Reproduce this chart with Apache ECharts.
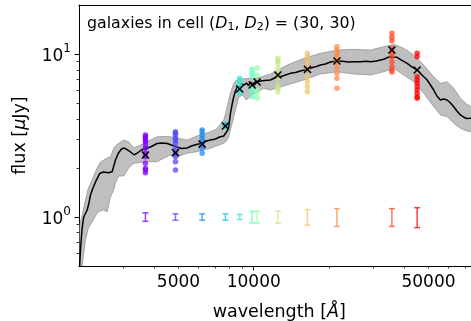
<!DOCTYPE html>
<html><head><meta charset="utf-8">
<script src="https://cdn.jsdelivr.net/npm/echarts@6/dist/echarts.min.js"></script>
<style>html,body{margin:0;padding:0;background:#fff}#c{width:471px;height:321px}</style>
</head><body><div id="c"></div>
<script>
// median spectrum
const lineWave = [2000,2027,2055,2089,2156,2192,2223,2275,2328,2421,2505,2623,2714,2798,2876,2957,3040,3125,3212,3333,3426,3555,3746,3862,4107,4312,4503,4685,4938,5138,5416,5634,5899,6217,6471,6713,7030,7293,7586,7827,7943,8069,8197,8318,8450,8583,8766,8929,9120,9350,9524,9700,9881,10318,10636,11035,11663,12213,12788,13391,14022,14683,15375,16355,17174,17818,18486,19357,20270,21560,22640,23930,25119,26720,28240,29300,30960,33113,34260,35230,36220,37460,38980,41090,42740,45050,46860,49400,50920,52480,54050,55820,57390,59380,61230,63100,64990,67110,69020,70960,74270,77000,80000];
const lineFlux = [0.42,0.627,0.832,1.0,1.104,1.219,1.364,1.506,1.64,1.848,1.889,1.87,1.896,2.237,2.47,2.614,2.65,2.577,2.505,2.401,2.47,2.577,2.65,2.688,2.824,2.844,2.824,2.765,2.688,2.632,2.65,2.726,2.785,2.833,2.927,2.968,3.009,3.096,3.14,3.37,3.566,4.327,4.934,5.47,5.929,6.248,6.275,6.545,6.454,6.639,6.409,6.733,6.545,6.763,6.83,6.878,6.927,7.177,7.256,7.434,7.613,7.7,7.865,8.055,8.263,8.381,8.561,8.683,8.932,9.058,9.02,8.932,8.97,8.97,9.02,8.97,9.058,9.279,9.517,9.625,9.585,9.545,9.188,8.77,8.381,7.976,7.485,6.927,6.454,6.013,5.525,5.222,5.296,5.222,5.005,4.75,4.47,4.226,4.108,4.022,4.033,3.95,3.9];
// spread band
const bandWave = [2000,2059,2122,2181,2257,2363,2436,2512,2592,2672,2754,2798,2884,3020,3162,3311,3522,3746,4107,4365,4643,4938,5416,5938,6290,6713,7094,7586,7777,7943,8069,8318,8450,8710,9012,9350,9700,10318,10965,11663,13604,15849,18486,21560,25119,29300,33113,36308,39811,43652,47863,52481,55820,59380,63096,67110,70960,74270,80000];
const bandLow = [0.356,0.5,0.723,0.856,0.932,1.058,1.088,1.104,1.073,1.327,1.464,1.617,1.784,1.784,1.998,2.135,2.16,2.184,2.184,2.292,2.401,2.344,2.459,2.515,2.577,2.639,2.726,2.833,2.927,3.096,3.418,4.108,4.533,5.447,5.604,5.222,5.525,5.847,6.161,6.013,6.454,6.927,7.538,7.786,7.538,7.434,7.786,8.176,7.434,6.763,5.741,4.75,4.226,4.124,3.757,3.502,3.37,3.337,3.3];
const bandHigh = [0.856,1.029,1.271,1.506,1.687,1.998,2.175,2.237,2.301,2.344,2.639,2.726,2.833,2.968,2.897,2.65,2.765,2.897,3.109,3.118,3.109,3.052,2.968,3.14,3.23,3.337,3.467,3.936,4.533,5.222,5.765,6.61,6.83,6.976,7.024,7.074,7.094,7.125,7.328,7.538,8.561,9.41,10.1,10.58,10.69,10.58,11.09,11.47,10.84,9.86,8.561,7.256,6.61,6.763,6.161,5.349,4.934,4.75,4.65];
// photometric bands
const bandCenters = [3688,4863,6218,7705,8790,9854,10318,12497,16400,21520,35700,45040];
const bandColors = ['#8000ff','#5148fc','#238af5','#0cc1e8','#3ae8d7','#68fcc1','#97fca7','#c5e88a','#f3c16a','#ff8a48','#ff4824','#ff0000'];
const bandErr = [0.06,0.045,0.045,0.045,0.035,0.08,0.085,0.085,0.11,0.125,0.125,0.14];
const medianPhot = [2.40,2.48,2.80,3.62,6.1,6.45,6.73,7.43,8.05,9.06,10.58,7.98];
const galaxyFlux = [
  [3.18,3.11,3.04,2.97,2.90,2.77,2.64,2.46,2.34,2.14,1.99,1.94,1.87],
  [3.34,3.26,3.18,3.04,2.97,2.83,2.64,2.46,2.34,2.18,1.94],
  [3.42,3.34,3.18,3.04,2.90,2.77,2.64,2.46],
  [3.7,3.6],
  [7.10,6.61,6.30,6.9,6.0,5.7],
  [8.05,7.62,7.26,6.16,5.87,5.47],
  [8.2,7.4,6.01,5.74,5.35],
  [9.41,9.06,8.77,8.17,7.79,7.10,6.45,6.16,5.87],
  [10.1,9.62,8.97,8.36,7.98,7.26,6.76,6.30,5.87],
  [11.09,10.58,10.09,9.62,9.19,8.77,8.17,7.62,7.10,6.16],
  [13.4,12.66,12.07,10.84,10.1,9.62,8.97,8.36,7.98,7.76],
  [10.1,9.62,7.26,6.93,6.61,6.30,6.01,5.74,5.47,5.35]
];
const xTickLabels = [5000,10000,50000];
const xMajorTicks = [10000];
const xMinorTicks = [3000,4000,5000,6000,7000,8000,9000,20000,30000,40000,50000,60000,70000];
const yTickLabels = [1,10];
const yMinorTicks = [0.6,0.7,0.8,0.9,2,3,4,5,6,7,8,9];

const FONT = 'DejaVu Sans';
const chart = echarts.init(document.getElementById('c'), null, {renderer:'canvas'});

const scatterData = [];
galaxyFlux.forEach((arr, i) => arr.forEach(v => scatterData.push([bandCenters[i], v, i])));
const errData = bandCenters.map((w, i) => [w, 1 - bandErr[i], 1 + bandErr[i], i]);
const medData = bandCenters.map((w, i) => [w, medianPhot[i]]);
const bandData = bandWave.map((w, i) => [w, bandLow[i], bandHigh[i]]);

const xBase = {type:'log', min:2000, max:80000, gridIndex:0, splitLine:{show:false}};
const yBase = {type:'log', min:0.5, max:20, gridIndex:0, splitLine:{show:false}};

chart.setOption({
  animation:false,
  backgroundColor:'#fff',
  title:{
    text:'{n|galaxies in cell (}{i|D}{s|1}{n|, }{i|D}{s|2}{n|) = (30, 30)}',
    left:82, top:9,
    textStyle:{fontWeight:'normal', rich:{
      n:{fontFamily:FONT, fontSize:15.8, fontWeight:'normal', color:'#000', lineHeight:19},
      i:{fontFamily:FONT, fontSize:15.8, fontWeight:'normal', color:'#000', fontStyle:'italic', lineHeight:19},
      s:{fontFamily:FONT, fontSize:11, fontWeight:'normal', color:'#000', lineHeight:19, verticalAlign:'bottom'}
    }}
  },
  grid:{left:79, top:5, width:400.5, height:261, outerBoundsMode:'none', containLabel:false, show:false},
  xAxis:[
    Object.assign({}, xBase, {
      position:'bottom',
      name:'{n|wavelength [}{i|Å}{n|]}', nameLocation:'middle', nameGap:37,
      nameTextStyle:{rich:{
        n:{fontFamily:FONT, fontSize:17.5, color:'#000'},
        i:{fontFamily:FONT, fontSize:17.5, color:'#000', fontStyle:'italic'}
      }},
      axisLine:{show:true, lineStyle:{color:'#000', width:1}},
      axisTick:{show:true, length:4.5, lineStyle:{color:'#000', width:1}, customValues:xMajorTicks},
      axisLabel:{show:true, customValues:xTickLabels, formatter:v => String(Math.round(v)), fontFamily:FONT, fontSize:17, color:'#000', margin:8}
    }),
    Object.assign({}, xBase, {
      position:'bottom',
      axisLine:{show:false},
      axisTick:{show:true, length:2.5, lineStyle:{color:'#000', width:0.8}, customValues:xMinorTicks},
      axisLabel:{show:false}
    }),
    Object.assign({}, xBase, {
      position:'top',
      axisLine:{show:true, lineStyle:{color:'#000', width:1}},
      axisTick:{show:false},
      axisLabel:{show:false}
    })
  ],
  yAxis:[
    Object.assign({}, yBase, {
      position:'left',
      name:'{n|flux [}{i|μ}{n|Jy]}', nameLocation:'middle', nameGap:50, nameRotate:90,
      nameTextStyle:{rich:{
        n:{fontFamily:FONT, fontSize:17.5, color:'#000'},
        i:{fontFamily:FONT, fontSize:17.5, color:'#000', fontStyle:'italic'}
      }},
      axisLine:{show:true, lineStyle:{color:'#000', width:1}},
      axisTick:{show:true, length:4.5, lineStyle:{color:'#000', width:1}, customValues:yTickLabels},
      axisLabel:{show:true, customValues:yTickLabels, margin:8,
        formatter:v => '{b|10}{s|' + Math.round(Math.log10(v)) + '}',
        rich:{
          b:{fontFamily:FONT, fontSize:17, color:'#000', lineHeight:22, verticalAlign:'bottom'},
          s:{fontFamily:FONT, fontSize:12, color:'#000', lineHeight:22, verticalAlign:'top'}
        }}
    }),
    Object.assign({}, yBase, {
      position:'left',
      axisLine:{show:false},
      axisTick:{show:true, length:2.5, lineStyle:{color:'#000', width:0.8}, customValues:yMinorTicks},
      axisLabel:{show:false}
    })
  ],
  series:[
    {
      type:'custom', xAxisIndex:0, yAxisIndex:0, clip:true, z:1,
      data:bandData,
      renderItem:(params, api) => {
        if (params.dataIndex !== 0) return null;
        const top = bandWave.map((w, i) => api.coord([w, bandHigh[i]]));
        const bot = bandWave.map((w, i) => api.coord([w, bandLow[i]])).reverse();
        const cs = params.coordSys;
        return {type:'group', children:[{
          type:'polygon', shape:{points:top.concat(bot)},
          style:{fill:'rgba(128,128,128,0.5)', stroke:'rgba(128,128,128,0.6)', lineWidth:1}
        }], clipPath:{type:'rect', shape:{x:cs.x, y:cs.y, width:cs.width, height:cs.height}}};
      }
    },
    {
      type:'line', xAxisIndex:0, yAxisIndex:0, z:3,
      data:lineWave.map((w, i) => [w, lineFlux[i]]),
      showSymbol:false, symbol:'none',
      lineStyle:{color:'#000', width:1.5}
    },
    {
      type:'scatter', xAxisIndex:0, yAxisIndex:0, z:4,
      data:scatterData, symbolSize:5.5,
      itemStyle:{color:p => bandColors[p.data[2]], opacity:0.75}
    },
    {
      type:'custom', xAxisIndex:0, yAxisIndex:0, z:5,
      data:errData,
      renderItem:(params, api) => {
        const lo = api.coord([api.value(0), api.value(1)]);
        const hi = api.coord([api.value(0), api.value(2)]);
        const c = bandColors[api.value(3)];
        const st = {stroke:c, lineWidth:1.5, opacity:0.75};
        return {type:'group', children:[
          {type:'line', shape:{x1:lo[0], y1:lo[1], x2:hi[0], y2:hi[1]}, style:st},
          {type:'line', shape:{x1:lo[0]-3, y1:lo[1], x2:lo[0]+3, y2:lo[1]}, style:st},
          {type:'line', shape:{x1:hi[0]-3, y1:hi[1], x2:hi[0]+3, y2:hi[1]}, style:st}
        ]};
      }
    },
    {
      type:'custom', xAxisIndex:0, yAxisIndex:0, z:6,
      data:medData,
      renderItem:(params, api) => {
        const p = api.coord([api.value(0), api.value(1)]);
        const r = 3.5, st = {stroke:'#000', lineWidth:1.5};
        return {type:'group', children:[
          {type:'line', shape:{x1:p[0]-r, y1:p[1]-r, x2:p[0]+r, y2:p[1]+r}, style:st},
          {type:'line', shape:{x1:p[0]-r, y1:p[1]+r, x2:p[0]+r, y2:p[1]-r}, style:st}
        ]};
      }
    }
  ]
});
</script></body></html>
